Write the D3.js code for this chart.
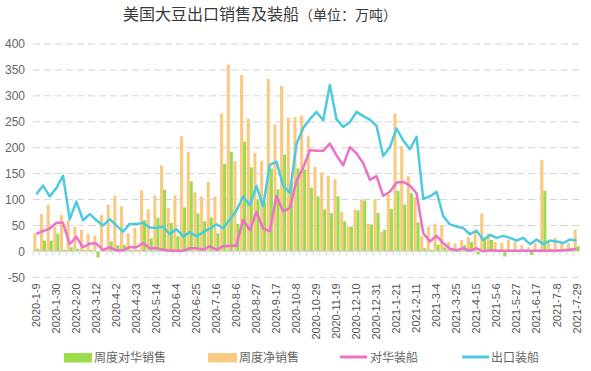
<!DOCTYPE html>
<html>
<head>
<meta charset="utf-8">
<script src="https://cdn.jsdelivr.net/npm/d3@7/dist/d3.min.js"></script>
<style>
body { margin: 0; background: #fff; }
text { font-family: "Noto Sans CJK SC", "Liberation Sans", sans-serif; }
</style>
</head>
<body>
<script>
const weeks = [
    '2020-1-9', '2020-1-16', '2020-1-23', '2020-1-30', '2020-2-6', '2020-2-13', '2020-2-20', '2020-2-27',
    '2020-3-5', '2020-3-12', '2020-3-19', '2020-3-26', '2020-4-2', '2020-4-9', '2020-4-16', '2020-4-23',
    '2020-4-30', '2020-5-7', '2020-5-14', '2020-5-21', '2020-5-28', '2020-6-4', '2020-6-11', '2020-6-18',
    '2020-6-25', '2020-7-2', '2020-7-9', '2020-7-16', '2020-7-23', '2020-7-30', '2020-8-6', '2020-8-13',
    '2020-8-20', '2020-8-27', '2020-9-3', '2020-9-10', '2020-9-17', '2020-9-24', '2020-10-1', '2020-10-8',
    '2020-10-15', '2020-10-22', '2020-10-29', '2020-11-5', '2020-11-12', '2020-11-19', '2020-11-26', '2020-12-3',
    '2020-12-10', '2020-12-17', '2020-12-24', '2020-12-31', '2021-1-7', '2021-1-14', '2021-1-21', '2021-1-28',
    '2021-2-4', '2021-2-11', '2021-2-18', '2021-2-25', '2021-3-4', '2021-3-11', '2021-3-18', '2021-3-25',
    '2021-4-1', '2021-4-8', '2021-4-15', '2021-4-22', '2021-4-29', '2021-5-6', '2021-5-13', '2021-5-20',
    '2021-5-27', '2021-6-3', '2021-6-10', '2021-6-17', '2021-6-24', '2021-7-1', '2021-7-8', '2021-7-15',
    '2021-7-22', '2021-7-29'
];

const tickWeeks = [
    '2020-1-9', '2020-1-30', '2020-2-20', '2020-3-12', '2020-4-2', '2020-4-23', '2020-5-14', '2020-6-4',
    '2020-6-25', '2020-7-16', '2020-8-6', '2020-8-27', '2020-9-17', '2020-10-8', '2020-10-29', '2020-11-19',
    '2020-12-10', '2020-12-31', '2021-1-21', '2021-2-11', '2021-3-4', '2021-3-25', '2021-4-15', '2021-5-6',
    '2021-5-27', '2021-6-17', '2021-7-8', '2021-7-29'
];

// 周度对华销售
const chinaSales = [
    5, 21, 21, 34, 3, 8, 5, 3, 3, -12,
    2, 19, 12, 12, 3, 3, 60, 25, 65, 119,
    55, 29, 85, 135, 73, 58, 65, 35, 169, 192,
    53, 212, 162, 100, 95, 160, 120, 187, 135, 160,
    158, 123, 106, 81, 74, 106, 58, 48, 79, 98,
    52, 74, 42, 82, 117, 90, 112, 56, 6, 3,
    13, 8, 5, 3, 12, 18, -6, 26, 22, 3,
    -10, 3, 2, 4, -7, 3, 117, 5, 4, 3,
    6, 10
];

// 周度净销售
const netSales = [
    34, 72, 90, 47, 70, 60, 48, 42, 34, 30,
    70, 90, 107, 87, 35, 45, 118, 81, 108, 166,
    84, 108, 222, 192, 114, 106, 134, 106, 266, 360,
    174, 340, 256, 190, 175, 333, 245, 319, 258, 259,
    262, 222, 163, 152, 146, 139, 76, 48, 81, 100,
    53, 100, 38, 110, 266, 203, 145, 105, 29, 48,
    53, 50, 18, 15, 22, 28, 35, 73, 34, 18,
    16, 23, 19, 12, 8, 16, 176, 18, 26, 18,
    16, 42
];

// 对华装船
const chinaShip = [
    34, 39, 44, 55, 55, 14, 28, 8, 15, 15,
    3, 8, 2, 2, 8, 8, 16, 6, 6, 3,
    1, 1, 1, 6, 6, 3, 10, 3, 10, 11,
    11, 61, 41, 76, 44, 39, 107, 77, 84, 136,
    161, 195, 194, 194, 208, 185, 166, 201, 189, 170,
    138, 145, 107, 115, 133, 134, 127, 112, 35, 19,
    30, 16, 5, 2, 6, 1, 6, 0, 2, 1,
    1, 1, 1, 1, 1, 1, 1, 1, 1, 2,
    3, 5
];

// 出口装船
const exportShip = [
    110, 127, 106, 122, 146, 62, 96, 60, 72, 60,
    50, 62, 50, 38, 53, 53, 55, 46, 45, 48,
    33, 43, 29, 37, 29, 37, 44, 52, 45, 61,
    79, 106, 89, 126, 87, 167, 173, 127, 113, 207,
    238, 255, 269, 253, 321, 255, 240, 249, 269, 261,
    254, 242, 184, 201, 237, 214, 197, 221, 101, 106,
    115, 68, 52, 48, 45, 33, 40, 22, 32, 26,
    30, 26, 21, 26, 14, 23, 14, 21, 19, 16,
    23, 21
];

const yTicks = [-50, 0, 50, 100, 150, 200, 250, 300, 350, 400];

const svgWidth = 591, svgHeight = 371;
const plotLeft = 33, plotRight = 580, plotTop = 44, plotBottom = 277.3;

const colors = {
    china: '#9bdc4c',
    net: '#f9c982',
    chinaShip: '#ec72c9',
    exportShip: '#4ccbe0'
};

const svg = d3.select('body')
    .append('svg')
    .attr('width', svgWidth)
    .attr('height', svgHeight);

const x = d3.scaleBand()
    .domain(weeks)
    .range([plotLeft, plotRight]);

const xSub = d3.scaleBand()
    .domain(['net', 'china'])
    .range([0.3, x.bandwidth() - 0.3]);

const y = d3.scaleLinear()
    .domain([-50, 400])
    .range([plotBottom, plotTop]);

// title
const title = svg.append('text')
    .attr('x', 123)
    .attr('y', 20)
    .attr('fill', '#3a3a3a');
title.append('tspan').attr('font-size', 16).text('美国大豆出口销售及装船');
title.append('tspan').attr('font-size', 14).text('（单位：万吨）');

// grid lines
svg.selectAll('.grid')
    .data(yTicks.filter(d => d !== 0))
    .enter()
    .append('line')
    .attr('x1', plotLeft)
    .attr('x2', plotRight + 2)
    .attr('y1', d => y(d))
    .attr('y2', d => y(d))
    .attr('stroke', '#d4d4d4')
    .attr('stroke-dasharray', '7,4');

// y labels
svg.selectAll('.ylab')
    .data(yTicks)
    .enter()
    .append('text')
    .attr('x', 25)
    .attr('y', d => y(d))
    .attr('dy', '0.35em')
    .attr('text-anchor', 'end')
    .attr('font-size', 12)
    .attr('fill', '#666')
    .style('font-family', '"Liberation Sans", sans-serif')
    .text(d => d);

// bars
svg.selectAll('.net')
    .data(netSales)
    .enter()
    .append('rect')
    .attr('x', (d, i) => x(weeks[i]) + xSub('net'))
    .attr('width', xSub.bandwidth())
    .attr('y', d => y(Math.max(0, d)))
    .attr('height', d => Math.abs(y(d) - y(0)))
    .attr('fill', colors.net);

svg.selectAll('.china')
    .data(chinaSales)
    .enter()
    .append('rect')
    .attr('x', (d, i) => x(weeks[i]) + xSub('china'))
    .attr('width', xSub.bandwidth())
    .attr('y', d => y(Math.max(0, d)))
    .attr('height', d => Math.abs(y(d) - y(0)))
    .attr('fill', colors.china);

// zero axis line with small ticks
svg.append('line')
    .attr('x1', plotLeft)
    .attr('x2', plotRight)
    .attr('y1', y(0))
    .attr('y2', y(0))
    .attr('stroke', '#cfd8e0');

svg.selectAll('.tick0')
    .data(weeks)
    .enter()
    .append('line')
    .attr('x1', d => x(d))
    .attr('x2', d => x(d))
    .attr('y1', y(0))
    .attr('y2', y(0) + 4)
    .attr('stroke', '#cfd8e0');

// lines
const line = d3.line()
    .x((d, i) => x(weeks[i]) + x.bandwidth() / 2)
    .y(d => y(d));

svg.append('path')
    .datum(chinaShip)
    .attr('d', line)
    .attr('fill', 'none')
    .attr('stroke', colors.chinaShip)
    .attr('stroke-width', 2.5)
    .attr('stroke-linejoin', 'round');

svg.append('path')
    .datum(exportShip)
    .attr('d', line)
    .attr('fill', 'none')
    .attr('stroke', colors.exportShip)
    .attr('stroke-width', 2.5)
    .attr('stroke-linejoin', 'round');

// x axis labels
const xAxis = svg.append('g')
    .attr('transform', 'translate(0,' + (plotBottom + 1) + ')')
    .call(d3.axisBottom(x).tickValues(tickWeeks).tickSize(0));

xAxis.select('.domain').remove();
xAxis.selectAll('text')
    .attr('transform', 'rotate(-90)')
    .attr('x', -5)
    .attr('y', 0)
    .attr('dy', '0.35em')
    .style('text-anchor', 'end')
    .style('font-family', '"Liberation Sans", sans-serif')
    .attr('font-size', 11)
    .attr('fill', '#555');

// legend
const legend = svg.append('g');

legend.append('rect').attr('x', 64).attr('y', 353).attr('width', 28).attr('height', 9.5).attr('fill', colors.china);
legend.append('text').attr('x', 94).attr('y', 357.5).attr('dy', '0.35em').attr('font-size', 12).attr('fill', '#666').text('周度对华销售');

legend.append('rect').attr('x', 208).attr('y', 353).attr('width', 29).attr('height', 9.5).attr('fill', colors.net);
legend.append('text').attr('x', 239).attr('y', 357.5).attr('dy', '0.35em').attr('font-size', 12).attr('fill', '#666').text('周度净销售');

legend.append('line').attr('x1', 340).attr('x2', 367).attr('y1', 357).attr('y2', 357).attr('stroke', colors.chinaShip).attr('stroke-width', 3);
legend.append('text').attr('x', 370).attr('y', 357.5).attr('dy', '0.35em').attr('font-size', 12).attr('fill', '#666').text('对华装船');

legend.append('line').attr('x1', 462).attr('x2', 489).attr('y1', 357).attr('y2', 357).attr('stroke', colors.exportShip).attr('stroke-width', 3);
legend.append('text').attr('x', 491).attr('y', 357.5).attr('dy', '0.35em').attr('font-size', 12).attr('fill', '#666').text('出口装船');
</script>
</body>
</html>
